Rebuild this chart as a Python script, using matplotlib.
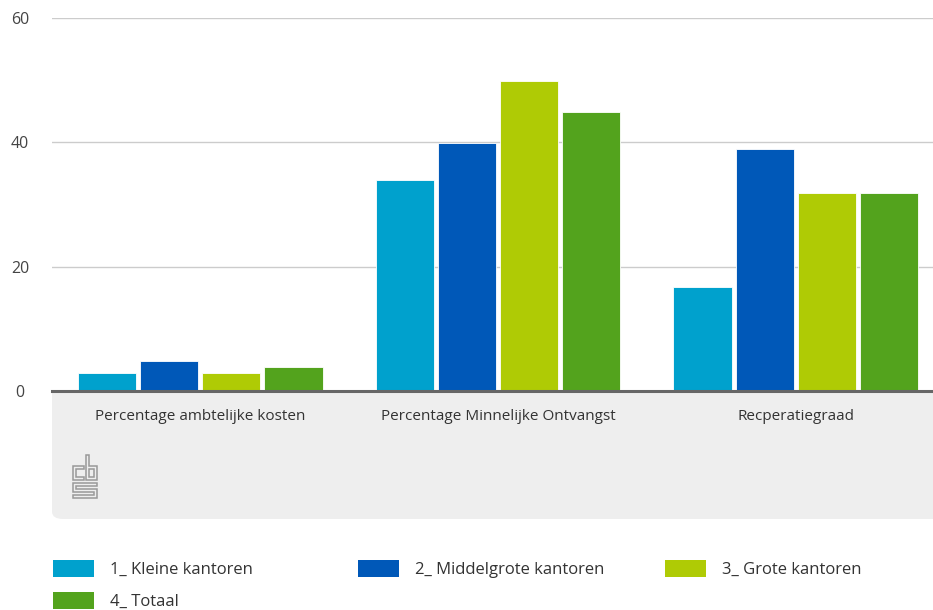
import numpy as np
import matplotlib
matplotlib.use("Agg")
import matplotlib.pyplot as plt
from matplotlib.patches import FancyBboxPatch, Rectangle, Polygon

plt.rcParams['font.family'] = ['Open Sans', 'DejaVu Sans']

# data
categories = ['Percentage ambtelijke kosten', 'Percentage Minnelijke Ontvangst', 'Recperatiegraad']
series = ['1_ Kleine kantoren', '2_ Middelgrote kantoren', '3_ Grote kantoren', '4_ Totaal']
kleine = [2.9, 34.0, 16.8]
middel = [4.9, 39.9, 38.9]
grote = [2.9, 49.8, 31.9]
totaal = [3.8, 44.8, 31.9]
values = [kleine, middel, grote, totaal]
colors = ['#00a1cd', '#0058b8', '#afcb05', '#53a31d']
yticks = [0, 20, 40, 60]

W, H = 933, 610
fig = plt.figure(figsize=(W / 100, H / 100), dpi=100)


def px(x, y):
    return (x / W, 1 - y / H)


# axes from x=52..933, y=18..391 px
ax = fig.add_axes([52 / W, 1 - 391 / H, (933 - 52) / W, (391 - 18) / H])
ax.set_facecolor('white')
ax.set_zorder(1)

x = np.arange(len(categories))
bw = 0.195
step = 0.209
for i, (vals, col) in enumerate(zip(values, colors)):
    ax.bar(x + (i - 1.5) * step, vals, width=bw, color=col, edgecolor='white',
           linewidth=0.6, zorder=3, label=series[i])

ax.set_xlim(-0.497, 2.46)
ax.set_ylim(0, 60)
ax.set_yticks(yticks)
ax.set_yticklabels([str(t) for t in yticks])
for lab in ax.get_yticklabels():
    lab.set_horizontalalignment('center')
ax.tick_params(axis='y', length=0, pad=23, labelsize=11.5, labelcolor='#444444')
ax.set_xticks(x)
ax.set_xticklabels(categories)
ax.tick_params(axis='x', length=0, pad=13, labelsize=11, labelcolor='#333333')
ax.grid(axis='y', color='#cccccc', linewidth=1, zorder=0)
ax.set_axisbelow(True)
for s in ['top', 'right', 'left']:
    ax.spines[s].set_visible(False)
ax.spines['bottom'].set_color('#666666')
ax.spines['bottom'].set_linewidth(2.2)
ax.spines['bottom'].set_zorder(4)

# grey panel below the axis
x0, y0 = px(52, 519)
x1, y1 = px(960, 370)
panel = FancyBboxPatch((x0, y0), x1 - x0, y1 - y0,
                       boxstyle='round,pad=0,rounding_size=0.012',
                       transform=fig.transFigure, facecolor='#eeeeee',
                       edgecolor='none', zorder=-1)
fig.patches.append(panel)

# rough cbs logo
logo_color = '#999999'
c_shape = [(84, 466), (73, 466), (73, 480), (84, 480), (84, 477), (76, 477), (76, 469), (84, 469)]
b_shape = [(86, 455), (89, 455), (89, 466), (97, 466), (97, 480), (86, 480)]
b_hole = [(89, 469), (94, 469), (94, 477), (89, 477)]
s_shape = [(73, 483), (97, 483), (97, 486), (76, 486), (76, 489), (97, 489), (97, 498),
           (73, 498), (73, 495), (94, 495), (94, 492), (73, 492)]
for shp in [c_shape, b_shape, b_hole, s_shape]:
    fig.patches.append(Polygon([px(a, b) for a, b in shp], closed=True, fill=False,
                               edgecolor=logo_color, linewidth=1.1,
                               transform=fig.transFigure))

# legend, laid out row by row
leg_pos = [(53, 568), (358, 568), (665, 568), (53, 600)]
for (lx, ly), name, col in zip(leg_pos, series, colors):
    rx, ry = px(lx, ly + 8.5)
    fig.patches.append(Rectangle((rx, ry), 41 / W, 17 / H, facecolor=col,
                                 edgecolor='none', transform=fig.transFigure))
    tx, ty = px(lx + 57, ly + 1.5)
    fig.text(tx, ty, name, fontsize=12, color='#333333', va='center', ha='left')

fig.savefig('out.png', dpi=100, facecolor='white')
